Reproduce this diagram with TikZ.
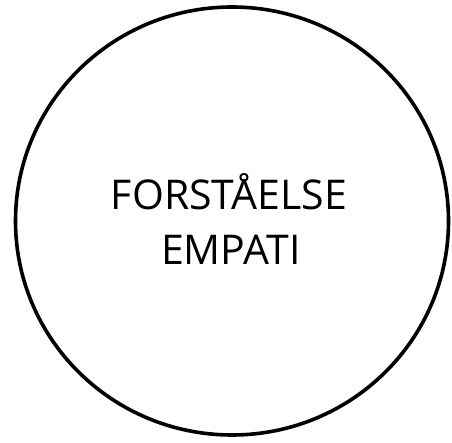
\documentclass[tikz,border=0pt]{standalone}
\usepackage{fontspec}
\setmainfont{Open Sans}
\tikzset{lbl/.style={anchor=base,inner sep=0pt,font=\fontsize{41}{48}\selectfont}}
\begin{document}
\begin{tikzpicture}[x=1pt,y=1pt]
\useasboundingbox (0,0) rectangle (452,442);
\draw[line width=3.6pt] (232,221) ellipse [x radius=216.5, y radius=214];
\node[lbl] (t1) at (229,232) {FORSTÅELSE};
\node[lbl] (t2) at (231,177) {EMPATI};
\end{tikzpicture}
\end{document}
